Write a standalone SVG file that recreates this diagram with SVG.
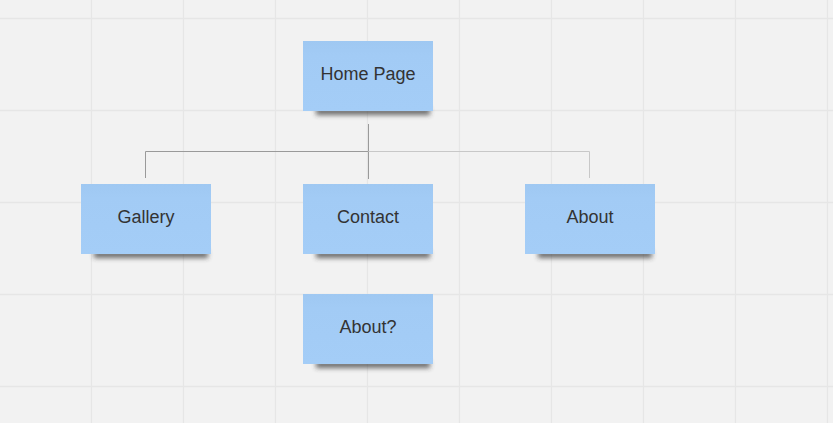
<svg xmlns="http://www.w3.org/2000/svg" width="833" height="423" viewBox="0 0 833 423">
<defs>
<filter id="blur" x="-20%" y="-100%" width="140%" height="300%"><feGaussianBlur stdDeviation="2.5"/></filter>
<linearGradient id="note" x1="0" y1="0" x2="0" y2="1">
<stop offset="0" stop-color="#9fc8f2"/><stop offset="0.2" stop-color="#a2cbf5"/><stop offset="1" stop-color="#a4cdf7"/>
</linearGradient>
</defs>
<style>
.grid{stroke:#e6e6e6;stroke-width:1.3}
.shadow{fill:#333;opacity:0.7;filter:url(#blur)}
.note{fill:url(#note)}
.lbl{font-family:"Liberation Sans",Arial,sans-serif;font-size:18px;fill:#333;text-anchor:middle}
.conn{fill:none;stroke:#9a9a9a;stroke-width:1}
.conn2{fill:none;stroke:#c8c8c8;stroke-width:1}
</style>
<rect width="833" height="423" fill="#f2f2f2"/>
<g id="grid">
<path class="grid" d="M91.5 0V423M183.5 0V423M275.5 0V423M367.5 0V423M459.5 0V423M551.5 0V423M643.5 0V423M735.5 0V423M827.5 0V423M0 18.5H833M0 110.5H833M0 202.5H833M0 294.5H833M0 386.5H833"/>
</g>
<g id="connectors">
<path class="conn" d="M368.5 124V151.5H145.5V178"/>
<path class="conn" d="M368.5 151.5V179"/>
<path class="conn2" d="M368.5 151.5H589.5V178"/>
</g>
<g id="home">
<rect class="shadow" x="316" y="108" width="114" height="7"/>
<rect class="note" x="303" y="41" width="130" height="70"/>
<text class="lbl" x="368" y="80">Home Page</text>
</g>
<g id="gallery">
<rect class="shadow" x="94" y="251" width="114" height="7"/>
<rect class="note" x="81" y="184" width="130" height="70"/>
<text class="lbl" x="146" y="223">Gallery</text>
</g>
<g id="contact">
<rect class="shadow" x="316" y="251" width="114" height="7"/>
<rect class="note" x="303" y="184" width="130" height="70"/>
<text class="lbl" x="368" y="223">Contact</text>
</g>
<g id="about">
<rect class="shadow" x="538" y="251" width="114" height="7"/>
<rect class="note" x="525" y="184" width="130" height="70"/>
<text class="lbl" x="590" y="223">About</text>
</g>
<g id="about2">
<rect class="shadow" x="316" y="361" width="114" height="7"/>
<rect class="note" x="303" y="294" width="130" height="70"/>
<text class="lbl" x="368" y="333">About?</text>
</g>
</svg>
